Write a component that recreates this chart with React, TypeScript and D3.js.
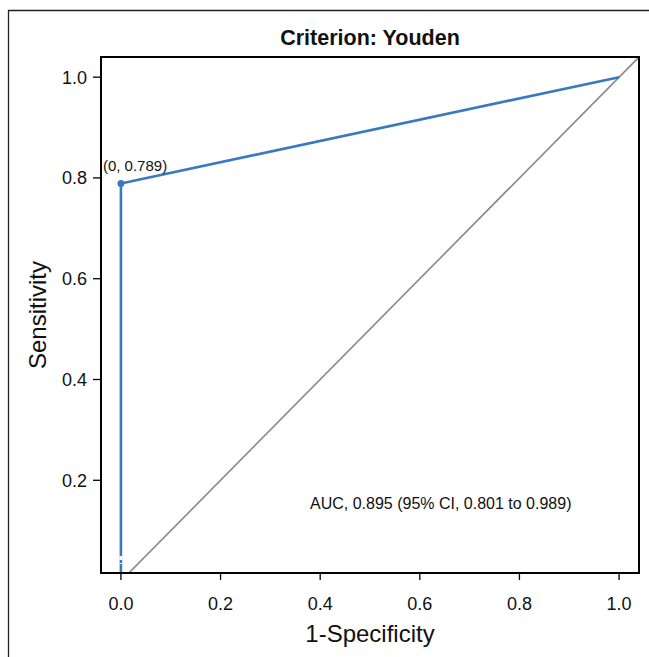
import React from "react";
import * as d3 from "d3";

const W = 649, H = 657;
const M = { left: 101, right: 639, top: 57, bottom: 573 };

// ROC curve points (1-specificity, sensitivity)
const rocFpr = [0, 0, 1];
const rocTpr = [0, 0.789, 1];
const cutPoint = { fpr: 0, tpr: 0.789, label: "(0, 0.789)" };
// small breaks seen in the vertical segment near the bottom
const breaks = [[0.0418, 0.0497], [0.0339, 0.0358]];

const xTicks = [0, 0.2, 0.4, 0.6, 0.8, 1.0];
const yTicks = [0.2, 0.4, 0.6, 0.8, 1.0];

const TITLE = "Criterion: Youden";
const AUC_TEXT = "AUC, 0.895 (95% CI, 0.801 to 0.989)";

const FONT = "'Liberation Sans', Arial, sans-serif";
const BLUE = "#3a78c2";

export default function App() {
  const x = d3.scaleLinear().domain([-0.04, 1.04]).range([M.left, M.right]);
  const y = d3.scaleLinear().domain([0.016, 1.04]).range([M.bottom, M.top]);

  const line = d3.line<[number, number]>().x(d => x(d[0])).y(d => y(d[1]));
  const roc: [number, number][] = rocFpr.map((f, i) => [f, rocTpr[i]]);
  const diag: [number, number][] = [[-0.04, -0.04], [1.04, 1.04]];

  return (
    <svg width={W} height={H} style={{ position: "absolute", left: 0, top: 0, background: "#fff" }}
      fontFamily={FONT}>
      {/* outer frame */}
      <path d={`M8.5,${H} V10.5 H${W}`} fill="none" stroke="#222" strokeWidth={1.3} />

      <defs>
        <clipPath id="plot-clip">
          <rect x={M.left} y={M.top} width={M.right - M.left} height={M.bottom - M.top} />
        </clipPath>
      </defs>

      <text x={(M.left + M.right) / 2} y={45} textAnchor="middle" fontSize={21.5} fontWeight="bold" fill="#111">
        {TITLE}
      </text>

      <g clipPath="url(#plot-clip)">
        <path d={line(diag) || ""} fill="none" stroke="#888" strokeWidth={1.6} />
        <path d={line(roc) || ""} fill="none" stroke={BLUE} strokeWidth={2.6} />
        {breaks.map((b, i) => (
          <line key={i} x1={x(0)} x2={x(0)} y1={y(b[0])} y2={y(b[1])} stroke="#fff" strokeWidth={3} />
        ))}
      </g>
      <circle cx={x(cutPoint.fpr)} cy={y(cutPoint.tpr)} r={3.5} fill={BLUE} />
      <text x={x(cutPoint.fpr) - 18} y={y(cutPoint.tpr) - 12} fontSize={15} fill="#111">
        {cutPoint.label}
      </text>

      <text x={310} y={509} fontSize={16} fill="#111">{AUC_TEXT}</text>

      {/* plot frame */}
      <rect x={M.left} y={M.top} width={M.right - M.left} height={M.bottom - M.top}
        fill="none" stroke="#000" strokeWidth={2} />

      {/* x axis ticks */}
      {xTicks.map(t => (
        <g key={t}>
          <line x1={x(t)} x2={x(t)} y1={M.bottom} y2={M.bottom + 7} stroke="#000" strokeWidth={1.3} />
          <text x={x(t)} y={610} textAnchor="middle" fontSize={18} fill="#111">{t.toFixed(1)}</text>
        </g>
      ))}
      {/* y axis ticks */}
      {yTicks.map(t => (
        <g key={t}>
          <line x1={M.left - 8} x2={M.left} y1={y(t)} y2={y(t)} stroke="#000" strokeWidth={1.3} />
          <text x={M.left - 14} y={y(t) + 6.5} textAnchor="end" fontSize={18} fill="#111">{t.toFixed(1)}</text>
        </g>
      ))}

      <text x={(M.left + M.right) / 2} y={642} textAnchor="middle" fontSize={24} fill="#111">1-Specificity</text>
      <text transform={`translate(46,${(M.top + M.bottom) / 2}) rotate(-90)`} textAnchor="middle" fontSize={24} fill="#111">
        Sensitivity
      </text>
    </svg>
  );
}
